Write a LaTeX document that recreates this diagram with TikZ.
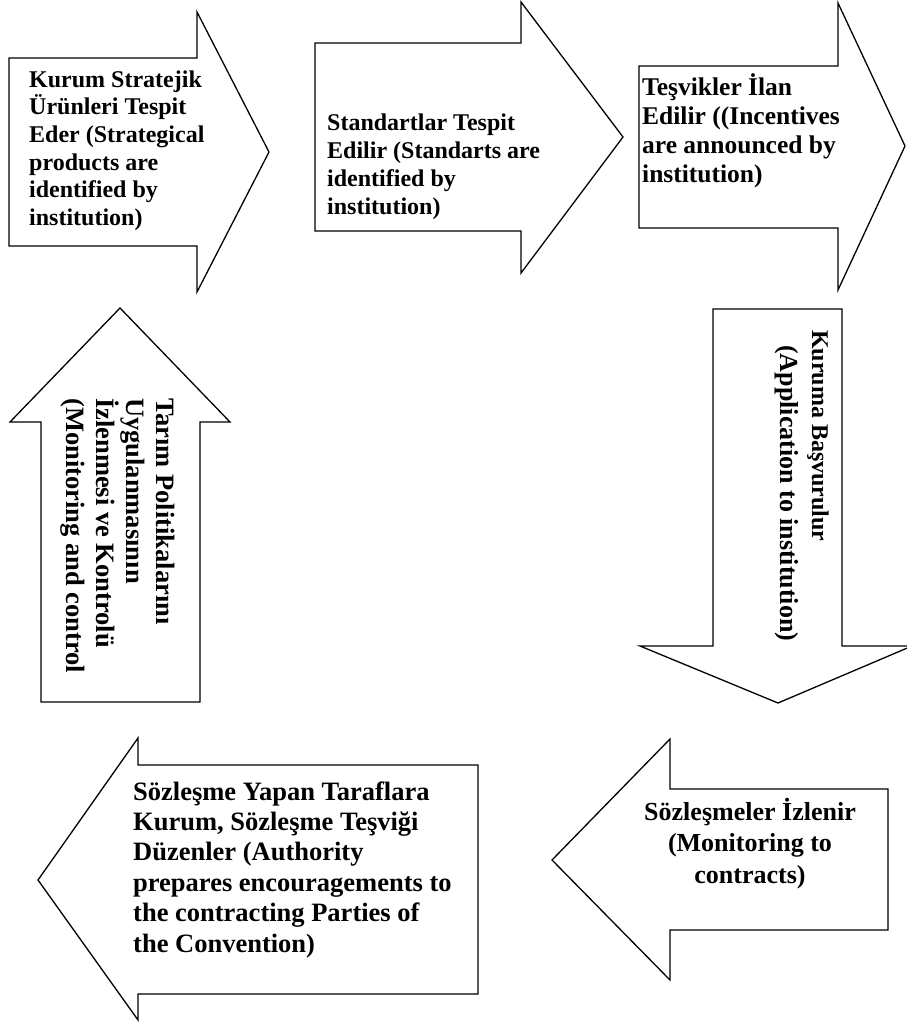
\documentclass[tikz,border=0pt]{standalone}
\usepackage{fontspec}
\setmainfont{Liberation Serif}
\tikzset{
  arrowshape/.style={draw=black, line width=1.3pt, line join=miter, fill=white},
  label/.style={inner sep=0pt, font=\bfseries, text=black},
}
\begin{document}
\begin{tikzpicture}[x=1pt,y=-1pt]
\useasboundingbox (0,0) rectangle (906,1023);
% arrow 1
\draw[arrowshape] (9,58) -- (197,58) -- (197,12) -- (269,152) -- (197,292) -- (197,246) -- (9,246) -- cycle;
\node[label, anchor=base west, align=left, font=\bfseries\fontsize{24}{27.7}\selectfont] (t1) at (29,225.5)
  {Kurum Stratejik\\Ürünleri Tespit\\Eder (Strategical\\products are\\identified by\\institution)};
% arrow 2
\draw[arrowshape] (315,43) -- (521,43) -- (521,2) -- (623,137) -- (521,273) -- (521,231) -- (315,231) -- cycle;
\node[label, anchor=base west, align=left, font=\bfseries\fontsize{24}{27.7}\selectfont] (t2) at (327,214)
  {Standartlar Tespit\\Edilir (Standarts are\\identified by\\institution)};
% arrow 3
\draw[arrowshape] (639,66) -- (838,66) -- (838,3) -- (905,146) -- (838,290) -- (838,228) -- (639,228) -- cycle;
\node[label, anchor=base west, align=left, font=\bfseries\fontsize{25.5}{29}\selectfont] (t3) at (642,182)
  {Teşvikler İlan\\Edilir ((Incentives\\are announced by\\institution)};
% arrow 4 (down)
\draw[arrowshape] (713,309) -- (842,309) -- (842,646) -- (912,646) -- (778,703) -- (640,646) -- (713,646) -- cycle;
\node[label, rotate=-90, anchor=base west, align=left, font=\bfseries\fontsize{24}{32}\selectfont] (t4) at (780,330)
  {Kuruma Başvurulur\\\hspace*{15pt}{\fontsize{26}{32}\selectfont(Application to institution)}};
% arrow 5 (up)
\draw[arrowshape] (120,308) -- (230,422) -- (200,422) -- (200,702) -- (41,702) -- (41,422) -- (10,422) -- cycle;
\node[label, rotate=-90, anchor=base west, align=left, font=\bfseries\fontsize{26.5}{30.3}\selectfont] (t5) at (66,398)
  {Tarım Politikalarını\\Uygulanmasının\\İzlenmesi ve Kontrolü\\(Monitoring and control};
% arrow 6 (left, right side)
\draw[arrowshape] (552,860) -- (670,739) -- (670,789) -- (888,789) -- (888,930) -- (670,930) -- (670,980) -- cycle;
\node[label, anchor=base, align=center, font=\bfseries\fontsize{26}{31.5}\selectfont] (t6) at (750,883)
  {Sözleşmeler İzlenir\\(Monitoring to\\contracts)};
% arrow 7 (left, left side)
\draw[arrowshape] (38,880) -- (138,738) -- (138,765) -- (478,765) -- (478,994) -- (138,994) -- (138,1020) -- cycle;
\node[label, anchor=base west, align=left, font=\bfseries\fontsize{26.5}{30.4}\selectfont] (t7) at (133,952)
  {Sözleşme Yapan Taraflara\\Kurum, Sözleşme Teşviği\\Düzenler (Authority\\prepares encouragements to\\the contracting Parties of\\the Convention)};
\end{tikzpicture}
\end{document}
